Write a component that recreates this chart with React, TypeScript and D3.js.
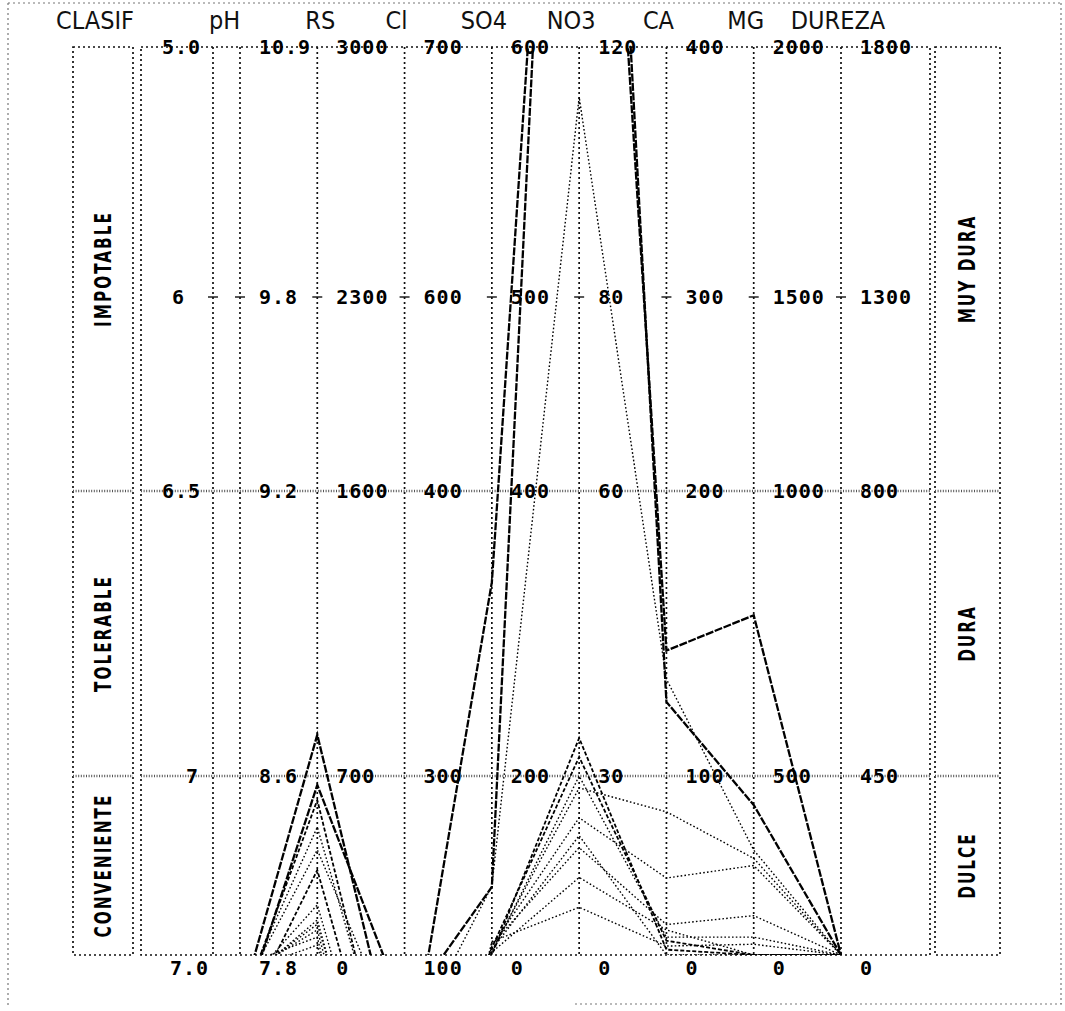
import React from 'react';
import * as d3 from 'd3';

// ---------- axes / categories ----------
const COLUMNS = ['pH', 'RS', 'Cl', 'SO4', 'NO3', 'CA', 'MG', 'DUREZA'];
const AXIS_KEYS = ['pH1', 'pH2', 'RS', 'Cl', 'SO4', 'NO3', 'CA', 'MG', 'DUREZA'];
const AXIS_COLUMN = ['pH', 'pH', 'RS', 'Cl', 'SO4', 'NO3', 'CA', 'MG', 'DUREZA'];
const HEADERS = ['CLASIF', 'pH', 'RS', 'Cl', 'SO4', 'NO3', 'CA', 'MG', 'DUREZA'];

// tick values per axis, from top row to bottom row
const TICKS_PH1 = [5.0, 6, 6.5, 6.9, 7.0];
const LABELS_PH1 = ['5.0', '6', '6.5', '7', '7.0'];
const TICKS_PH2 = [10.9, 9.8, 9.2, 8.6, 7.8];
const LABELS_PH2 = ['10.9', '9.8', '9.2', '8.6', '7.8'];
const TICKS_RS = [3000, 2300, 1600, 700, 0];
const TICKS_CL = [700, 600, 400, 300, 100];
const CL_FLOOR = 0; // values under the last Cl tick continue below the frame
const TICKS_SO4 = [600, 500, 400, 200, 0];
const TICKS_NO3 = [120, 80, 60, 30, 0];
const TICKS_CA = [400, 300, 200, 100, 0];
const TICKS_MG = [2000, 1500, 1000, 500, 0];
const TICKS_DUREZA = [1800, 1300, 800, 450, 0];

const ZONES_LEFT = ['IMPOTABLE', 'TOLERABLE', 'CONVENIENTE'];
const ZONES_RIGHT = ['MUY DURA', 'DURA', 'DULCE'];

// ---------- samples (one value per sample) ----------
const SAMPLE_PH = [7.57, 7.5, 7.62, 7.55, 7.48, 7.64, 7.66, 7.7, 7.72, 7.75, 7.68, 7.6];
const SAMPLE_RS = [830, 665, 411, 606, 332, 196, 137, 98, 39, 70, 120, 500];
const SAMPLE_CL = [72, 89, 80, 60, 55, 50, 45, 40, 35, 30, 48, 65];
const SAMPLE_SO4 = [336, 76, 77, 0, 8, 5, 10, 12, 3, 15, 6, 2];
const SAMPLE_NO3 = [242, 271, 112, 34, 32, 28, 23, 18, 13, 8, 20, 30];
const SAMPLE_CA = [144, 126, 134, 3, 8, 80, 43, 17, 14, 5, 0, 10];
const SAMPLE_MG = [782, 419, 293, 0, 0, 270, 250, 110, 0, 30, 0, 50];
const SAMPLE_DUREZA = [0, 0, 0, 0, 0, 0, 0, 0, 0, 0, 0, 0];

// line style of each sample (style only)
const SAMPLE_STYLE = ['solid', 'solid', 'dot', 'dash', 'dash', 'dot', 'dot', 'dot', 'dot', 'dot', 'dot', 'dot'];

export default function App() {
  const W = 1065;
  const H = 1011;
  const ROW_Y = [47, 297, 491, 776, 955];
  const EXT = 500;
  const plot = { left: 141, right: 930, top: ROW_Y[0], bottom: ROW_Y[4] };
  const leftBox = { left: 73, right: 133 };
  const rightBox = { left: 935, right: 1000 };
  const zoneBounds = [ROW_Y[0], ROW_Y[2], ROW_Y[3], ROW_Y[4]];

  const colX = d3.scalePoint<string>().domain(COLUMNS).range([230, 841]);
  const axisOffset: Record<string, number> = { pH1: -17, pH2: 10 };
  const axisX = AXIS_KEYS.map((k, i) => (colX(AXIS_COLUMN[i]) as number) + (axisOffset[k] ?? 0));

  const ticksByAxis = [TICKS_PH1, TICKS_PH2, TICKS_RS, TICKS_CL, TICKS_SO4, TICKS_NO3, TICKS_CA, TICKS_MG, TICKS_DUREZA];
  const labelsByAxis = [LABELS_PH1, LABELS_PH2, ...ticksByAxis.slice(2).map((t) => t.map(String))];
  const yScales = ticksByAxis.map((t, i) =>
    AXIS_KEYS[i] === 'Cl'
      ? d3.scaleLinear().domain([...t, CL_FLOOR]).range([...ROW_Y, ROW_Y[4] + EXT])
      : d3.scaleLinear().domain(t).range(ROW_Y)
  );
  const valuesByAxis = [SAMPLE_PH, SAMPLE_PH, SAMPLE_RS, SAMPLE_CL, SAMPLE_SO4, SAMPLE_NO3, SAMPLE_CA, SAMPLE_MG, SAMPLE_DUREZA];

  const line = d3.line<[number, number]>();
  const paths = d3.range(SAMPLE_PH.length).map((s) =>
    line(AXIS_KEYS.map((_, a) => [axisX[a], yScales[a](valuesByAxis[a][s])] as [number, number]))
  );

  const styleOf = (st: string) => {
    if (st === 'solid') return { strokeWidth: 2.3, dash: '8 1.5' };
    if (st === 'dash') return { strokeWidth: 1.8, dash: '4 2' };
    return { strokeWidth: 1.4, dash: '1.6 2.2' };
  };

  const headerX = [(leftBox.left + leftBox.right) / 2 - 8, ...COLUMNS.map((c) => (colX(c) as number) - 8)];
  headerX[1] = (axisX[0] + axisX[1]) / 2 - 2;
  headerX[2] = axisX[2] + 3;
  headerX[8] = axisX[8] - 3;
  const ph1LabelOffset = [-12, -28, -12, -14, -4];

  const dotted = { stroke: '#111', strokeWidth: 1.7, strokeDasharray: '2 3', fill: 'none' };
  const hDotted = { stroke: '#555', strokeWidth: 2.6, strokeDasharray: '1 1.6', fill: 'none' };
  const tickFont = "'DejaVu Sans Mono', 'Liberation Mono', monospace";
  const headFont = "'Liberation Sans Narrow', 'DejaVu Sans Condensed', 'Liberation Sans', sans-serif";
  const zoneFont = "'DejaVu Sans Condensed', 'Liberation Sans Narrow', sans-serif";

  return (
    <svg width={W} height={H} style={{ position: 'absolute', left: 0, top: 0, background: '#fff' }}>
      <defs>
        <clipPath id="plotClip">
          <rect x={plot.left} y={plot.top} width={plot.right - plot.left} height={plot.bottom - plot.top} />
        </clipPath>
      </defs>

      {/* page border (scan edge) */}
      <g stroke="#777" strokeWidth={1.2} strokeDasharray="2 3" fill="none">
        <line x1={8} y1={3} x2={W - 2} y2={3} />
        <line x1={8} y1={3} x2={8} y2={H - 4} />
        <line x1={1061} y1={3} x2={1061} y2={1004} />
        <line x1={575} y1={1004} x2={W} y2={1004} />
      </g>

      {/* headers */}
      {HEADERS.map((h, i) => (
        <text key={h} x={headerX[i]} y={20} textAnchor="middle" dominantBaseline="central"
          fontFamily={headFont} fontSize={25} fill="#111">
          {h}
        </text>
      ))}

      {/* class boxes */}
      <rect x={leftBox.left} y={plot.top} width={leftBox.right - leftBox.left} height={plot.bottom - plot.top} {...dotted} />
      <rect x={rightBox.left} y={plot.top} width={rightBox.right - rightBox.left} height={plot.bottom - plot.top} {...dotted} />
      <rect x={plot.left} y={plot.top} width={plot.right - plot.left} height={plot.bottom - plot.top} {...dotted} />

      {/* zone boundaries */}
      {[ROW_Y[2], ROW_Y[3]].map((y, i) => (
        <g key={i}>
          <line x1={leftBox.left} x2={leftBox.right} y1={y} y2={y} {...hDotted} />
          <line x1={plot.left} x2={plot.right} y1={y} y2={y} {...hDotted} />
          <line x1={rightBox.left} x2={rightBox.right} y1={y} y2={y} {...hDotted} />
        </g>
      ))}

      {/* vertical axes */}
      {axisX.map((x, i) => (
        <g key={AXIS_KEYS[i]}>
          <line x1={x} x2={x} y1={plot.top} y2={plot.bottom} {...dotted} />
          <line x1={x - 5} x2={x + 5} y1={ROW_Y[1]} y2={ROW_Y[1]} stroke="#111" strokeWidth={1.4} />
        </g>
      ))}

      {/* sample lines */}
      <g clipPath="url(#plotClip)" fill="none" stroke="#000">
        {paths.map((d, i) => {
          const st = styleOf(SAMPLE_STYLE[i]);
          return <path key={i} d={d || ''} strokeWidth={st.strokeWidth} strokeDasharray={st.dash} />;
        })}
      </g>

      {/* tick labels */}
      {ROW_Y.map((y, r) => (
        <g key={r}>
          {axisX.map((x, a) => (
            <text key={a}
              x={a === 0 ? x + ph1LabelOffset[r] : x + 19}
              y={r === 4 ? y + 13 : y}
              textAnchor={a === 0 ? 'end' : 'start'}
              dominantBaseline="central"
              fontFamily={tickFont} fontWeight="bold" fontSize={20} letterSpacing={1} fill="#000">
              {labelsByAxis[a][r]}
            </text>
          ))}
        </g>
      ))}

      {/* zone labels */}
      {ZONES_LEFT.map((z, i) => (
        <text key={z}
          transform={`translate(${(leftBox.left + leftBox.right) / 2 + 1},${(zoneBounds[i] + zoneBounds[i + 1]) / 2}) rotate(-90) scale(1,1.3)`}
          textAnchor="middle" dominantBaseline="central"
          fontFamily={zoneFont} fontWeight="bold" fontSize={17} letterSpacing={2} fill="#000">
          {z}
        </text>
      ))}
      {ZONES_RIGHT.map((z, i) => (
        <text key={z}
          transform={`translate(${(rightBox.left + rightBox.right) / 2},${(zoneBounds[i] + zoneBounds[i + 1]) / 2}) rotate(-90) scale(1,1.3)`}
          textAnchor="middle" dominantBaseline="central"
          fontFamily={zoneFont} fontWeight="bold" fontSize={17} letterSpacing={2} fill="#000">
          {z}
        </text>
      ))}
    </svg>
  );
}
